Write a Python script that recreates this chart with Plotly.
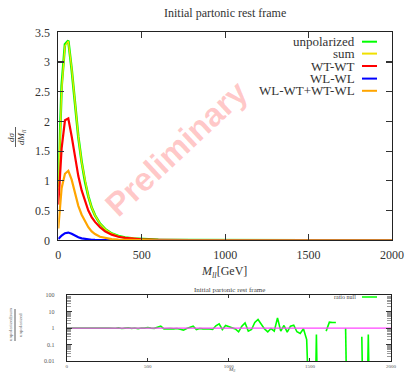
import plotly.graph_objects as go

# ---------------- data ----------------
mll = [0, 20, 40, 60, 80, 100, 120, 140, 160, 180, 200, 220, 250, 280, 320, 360,
       400, 450, 500, 600, 700, 800, 1000, 1200, 1500, 2000]
unpolarized = [0.90, 2.60, 3.30, 3.36, 2.88, 2.25, 1.74, 1.32, 0.99, 0.74, 0.55, 0.42, 0.28,
               0.19, 0.115, 0.072, 0.047, 0.029, 0.019, 0.009, 0.0045, 0.0025, 0.001,
               0.0005, 0.0002, 0.0001]
sum_pol = [0.84, 2.52, 3.27, 3.35, 2.90, 2.27, 1.75, 1.31, 0.99, 0.74, 0.55, 0.42, 0.28,
           0.19, 0.115, 0.072, 0.047, 0.029, 0.019, 0.009, 0.0045, 0.0025, 0.001,
           0.0005, 0.0002, 0.0001]
wt_wt = [0.60, 1.55, 2.02, 2.05, 1.75, 1.38, 1.08, 0.84, 0.65, 0.50, 0.39, 0.31, 0.22,
         0.15, 0.095, 0.060, 0.040, 0.025, 0.016, 0.008, 0.004, 0.002, 0.0009,
         0.0004, 0.00015, 0.00008]
wl_wl = [0.02, 0.08, 0.12, 0.13, 0.11, 0.075, 0.05, 0.032, 0.02, 0.013, 0.009, 0.006, 0.004,
         0.002, 0.001, 0.0005, 0.0003, 0.0002, 0.0001, 0.00005, 0.00002, 0.00001, 0.0,
         0.0, 0.0, 0.0]
wl_wt = [0.20, 0.88, 1.12, 1.17, 1.02, 0.78, 0.58, 0.43, 0.31, 0.22, 0.15, 0.105, 0.06,
         0.038, 0.02, 0.012, 0.007, 0.004, 0.003, 0.001, 0.0005, 0.0003, 0.0001,
         0.00005, 0.00002, 0.00001]

series_names = ["unpolarized", "sum", "WT-WT", "WL-WL", "WL-WT+WT-WL"]
series_colors = ["#00ff00", "#f0e000", "#ff0000", "#0000ff", "#ffa500"]

ratio_x = list(range(0, 2001, 20))
ratio_null = [
    1.0, 0.98, 1.01, 0.99, 1.0, 1.02, 0.99, 0.98, 1.01, 1.0, 1.03, 0.97, 1.0, 1.02, 0.98,
    0.99, 1.04, 0.96, 1.0, 1.05, 0.97, 1.02, 0.94, 1.03, 1.0,
    1.1, 1.0, 0.97, 1.15, 1.32, 0.9, 0.95, 0.93, 0.9, 0.95, 0.85, 0.76, 0.95, 1.1, 1.32,
    0.83, 0.95, 0.9, 0.92, 0.88, 0.83, 1.4, 1.83, 0.83, 1.45,
    1.2, 1.0, 0.9, 0.6, 1.3, 2.1, 0.66, 0.83, 2.2, 3.35, 1.67, 0.9, 0.6, 0.95, 0.66,
    4.2, 0.66, 1.45, 0.57, 1.32, 1.52, 0.6, 0.47, 0.91, 0.2,
    1e-12, 1e-12, 0.41, 1e-12, None, 0.66, 2.3, 2.2, 2.2, None, None, 1.0, 1e-12, None,
    None, None, 0.3, 1e-12, 0.41, 1e-12, None, None, None, None, None,
    None,
]
ref_x = [0, 2000]
ref_y = [1, 1]

x_ticks = [0, 500, 1000, 1500, 2000]
y_ticks = [0, 0.5, 1, 1.5, 2, 2.5, 3, 3.5]
ratio_ticks = [0.01, 0.1, 1, 10, 100]
ratio_ticktext = ["0.01", "0.1", "1", "10", "100"]

# ---------------- figure ----------------
W, H = 406, 373
SERIF = "Liberation Serif, DejaVu Serif, serif"

def px(x):
    return x / W

def py(y):
    return 1 - y / H

fig = go.Figure()

main_series = [unpolarized, sum_pol, wt_wt, wl_wl, wl_wt]
widths = [2.6, 1.3, 2.2, 2.2, 2.2]
for name, vals, col, w in zip(series_names, main_series, series_colors, widths):
    fig.add_trace(go.Scatter(x=mll, y=vals, mode="lines", name=name,
                             line=dict(color=col, width=w), showlegend=False,
                             xaxis="x", yaxis="y"))

fig.add_trace(go.Scatter(x=ratio_x, y=ratio_null, mode="lines", name="ratio null",
                         line=dict(color="#00ff00", width=1.6), connectgaps=False,
                         showlegend=False, xaxis="x2", yaxis="y2"))
fig.add_trace(go.Scatter(x=ref_x, y=ref_y, mode="lines", name="one",
                         line=dict(color="#ff44ff", width=1.2), showlegend=False,
                         xaxis="x2", yaxis="y2"))

axis_common = dict(showline=True, linecolor="#222", linewidth=1, mirror="ticks",
                   ticks="inside", tickcolor="#333", showgrid=False, zeroline=False,
                   automargin=False)

fig.update_layout(
    width=W, height=H, autosize=False,
    margin=dict(l=0, r=0, t=0, b=0, pad=0),
    paper_bgcolor="white", plot_bgcolor="white",
    font=dict(family=SERIF, color="#333"),
    xaxis=dict(domain=[px(58.3), px(392)], range=[0, 2000], tickvals=x_ticks,
               ticklen=6, tickwidth=1.2, tickfont=dict(size=12, family=SERIF, color="#333"),
               ticklabelstandoff=3, anchor="y", **axis_common),
    yaxis=dict(domain=[py(240.3), py(32.3)], range=[0, 3.5], tickvals=y_ticks,
               ticklen=6, tickwidth=1.2, tickfont=dict(size=12, family=SERIF, color="#333"),
               ticklabelstandoff=5, anchor="x", **axis_common),
    xaxis2=dict(domain=[px(66.7), px(391)], range=[0, 2000], tickvals=x_ticks,
                ticklen=3, tickwidth=1, tickfont=dict(size=5, family=SERIF, color="#555"),
                ticklabelstandoff=0, anchor="y2", **axis_common),
    yaxis2=dict(domain=[py(361), py(295.3)], type="log", range=[-2, 2],
                tickvals=ratio_ticks, ticktext=ratio_ticktext,
                ticklen=5, tickwidth=1, tickfont=dict(size=6, family=SERIF, color="#555"),
                ticklabelstandoff=10,
                minor=dict(ticks="inside", ticklen=4, tickcolor="#999", dtick="D1"),
                anchor="x2", **axis_common),
)

def note(x, y, text, size, xanchor="center", angle=0, color="#333", family=SERIF):
    return dict(x=px(x), y=py(y), xref="paper", yref="paper", text=text,
                showarrow=False, xanchor=xanchor, yanchor="middle", textangle=angle,
                font=dict(size=size, family=family, color=color))

annotations = [
    note(225, 12.5, "Initial partonic rest frame", 12),
    note(229, 290, "Initial partonic rest frame", 7, color="#444"),
    note(224, 271.5, "<i>M</i><sub><i>ll</i></sub>[GeV]", 12),
    note(11, 137, "<i>dσ</i>", 9, angle=-90),
    note(21, 137, "<i>dM</i><sub><i>ll</i></sub>", 9, angle=-90),
    note(231, 370, "<i>M</i><sub><i>ll</i></sub>", 5, color="#444"),
    note(10, 325, "unpolarized|sum", 5, angle=-90, color="#666"),
    note(20, 325, "unpolarized", 5, angle=-90, color="#666"),
    note(358, 297, "ratio null", 6, xanchor="right", color="#444"),
]
# legend (gnuplot style: text right-aligned, sample to the right)
legend_rows = [41.7, 53.6, 66.0, 78.6, 90.8]
for name, yy in zip(series_names, legend_rows):
    annotations.append(note(357, yy, name, 13, xanchor="right"))
# watermark
annotations.append(note(176, 148, "<b>Preliminary</b>", 33, angle=-43,
                        color="rgba(255,60,60,0.28)",
                        family="Liberation Sans, Arial, sans-serif"))
fig.update_layout(annotations=annotations)

shapes = []
for col, yy in zip(series_colors, legend_rows):
    shapes.append(dict(type="line", xref="paper", yref="paper",
                       x0=px(362), x1=px(377), y0=py(yy), y1=py(yy),
                       line=dict(color=col, width=2)))
shapes.append(dict(type="line", xref="paper", yref="paper",
                   x0=px(362), x1=px(377), y0=py(297), y1=py(297),
                   line=dict(color="#00ff00", width=1.5)))
shapes.append(dict(type="line", xref="paper", yref="paper",
                   x0=px(15.5), x1=px(15.5), y0=py(127), y1=py(147),
                   line=dict(color="#333", width=0.8)))
shapes.append(dict(type="line", xref="paper", yref="paper",
                   x0=px(15), x1=px(15), y0=py(309), y1=py(341),
                   line=dict(color="#333", width=0.8)))
fig.update_layout(shapes=shapes)

fig.write_html("out.html",
               config={"displayModeBar": False, "staticPlot": True},
               post_script="document.body.style.margin='0';document.body.style.padding='0';"
                           "document.body.style.overflow='hidden';")
